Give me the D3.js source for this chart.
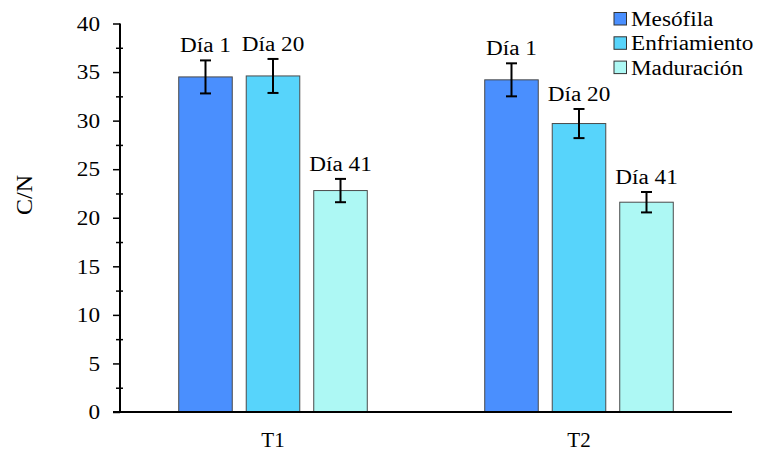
<!DOCTYPE html>
<html>
<head>
<meta charset="utf-8">
<script src="https://cdn.jsdelivr.net/npm/d3@7"></script>
<style>
  body { margin: 0; background: #fff; }
  svg text { font-family: "Liberation Serif", "Times New Roman", serif; fill: #000; }
</style>
</head>
<body>
<svg id="chart" width="760" height="451"></svg>
<script>
// C/N ratio by treatment and composting phase
const groups = ["T1", "T2"];
const series = ["Mesófila", "Enfriamiento", "Maduración"];
const dayLabels = ["Día 1", "Día 20", "Día 41"];
const valuesT1 = [34.5, 34.6, 22.8];
const valuesT2 = [34.2, 29.7, 21.6];
const errorsT1 = [1.7, 1.75, 1.2];
const errorsT2 = [1.7, 1.5, 1.05];
const yTicks = [0, 5, 10, 15, 20, 25, 30, 35, 40];
const yMinorTicks = [2.5, 7.5, 12.5, 17.5, 22.5, 27.5, 32.5, 37.5];
const colors = ["#4a8ffe", "#57d4fb", "#adf8f4"];

const data = groups.map((g, gi) => ({
  group: g,
  bars: series.map((s, si) => ({
    series: s,
    day: dayLabels[si],
    value: (gi === 0 ? valuesT1 : valuesT2)[si],
    err: (gi === 0 ? errorsT1 : errorsT2)[si]
  }))
}));

const svg = d3.select("#chart");
const plotLeft = 120, plotRight = 732, plotTop = 23.5, plotBottom = 412;
const stretch = "scale(1.16,1)";

const y = d3.scaleLinear().domain([0, 40]).range([plotBottom, plotTop]);
const x0 = d3.scaleBand().domain(groups).range([plotLeft, plotRight]).padding(0);
const x1 = d3.scaleBand().domain(series).range([0, x0.bandwidth()])
  .paddingInner(0.207).paddingOuter(0.87);

// bars
const g = svg.append("g").selectAll("g").data(data).join("g")
  .attr("transform", d => `translate(${x0(d.group)},0)`);

g.selectAll("rect").data(d => d.bars).join("rect")
  .attr("x", d => x1(d.series))
  .attr("y", d => y(d.value))
  .attr("width", x1.bandwidth())
  .attr("height", d => y(0) - y(d.value))
  .attr("fill", (d, i) => colors[i])
  .attr("stroke", "#4a4a4a")
  .attr("stroke-width", 1);

// error bars
const eb = g.selectAll("g.err").data(d => d.bars).join("g").attr("class", "err")
  .attr("transform", d => `translate(${x1(d.series) + x1.bandwidth() / 2},0)`);
eb.append("line")
  .attr("y1", d => y(d.value + d.err)).attr("y2", d => y(d.value - d.err))
  .attr("stroke", "#000").attr("stroke-width", 2);
eb.selectAll("line.cap").data(d => [d.value + d.err, d.value - d.err]).join("line")
  .attr("class", "cap")
  .attr("x1", -5.5).attr("x2", 5.5)
  .attr("y1", v => y(v)).attr("y2", v => y(v))
  .attr("stroke", "#000").attr("stroke-width", 2);

// day labels above error bars
eb.append("text")
  .attr("text-anchor", "middle")
  .attr("font-size", 20)
  .attr("transform", d => `translate(0,${y(d.value + d.err) - 8}) ${stretch}`)
  .text(d => d.day);

// y axis: major ticks
const yAxis = svg.append("g").attr("transform", `translate(${plotLeft},0)`)
  .call(d3.axisLeft(y).tickValues(yTicks).tickFormat(d3.format("d")).tickSize(7).tickSizeOuter(0));
yAxis.select(".domain").attr("stroke-width", 2).attr("d", `M0,${plotTop}V${plotBottom}`);
yAxis.selectAll(".tick line").attr("stroke-width", 1.5);
yAxis.selectAll(".tick text")
  .attr("x", null).attr("dy", "0.34em")
  .attr("font-size", 20)
  .attr("transform", `translate(-20,0) ${stretch}`);

// y axis: minor ticks crossing the axis line
const yMinor = svg.append("g").attr("transform", `translate(${plotLeft},0)`)
  .call(d3.axisLeft(y).tickValues(yMinorTicks).tickFormat("").tickSize(4).tickSizeOuter(0));
yMinor.select(".domain").remove();
yMinor.selectAll(".tick line").attr("x2", -4).attr("x1", 3).attr("stroke-width", 1.5);

// x axis
const xAxis = svg.append("g").attr("transform", `translate(0,${plotBottom})`)
  .call(d3.axisBottom(x0).tickSize(0).tickSizeOuter(0));
xAxis.select(".domain").attr("stroke-width", 2).attr("d", `M113,0H${plotRight}`);
xAxis.selectAll(".tick text").attr("y", 35).attr("dy", null).attr("font-size", 21);

// y axis title
svg.append("text")
  .attr("transform", "translate(32,195) rotate(-90)")
  .attr("text-anchor", "middle")
  .attr("font-size", 24)
  .text("C/N");

// legend
const legend = svg.append("g").attr("transform", "translate(614,12.5)")
  .selectAll("g").data(series).join("g")
  .attr("transform", (d, i) => `translate(0,${i * 24.3})`);
legend.append("rect")
  .attr("width", 12.5).attr("height", 12.5)
  .attr("fill", (d, i) => colors[i])
  .attr("stroke", "#333").attr("stroke-width", 1);
legend.append("text")
  .attr("font-size", 20)
  .attr("transform", `translate(17,13.5) ${stretch}`)
  .text(d => d);
</script>
</body>
</html>
